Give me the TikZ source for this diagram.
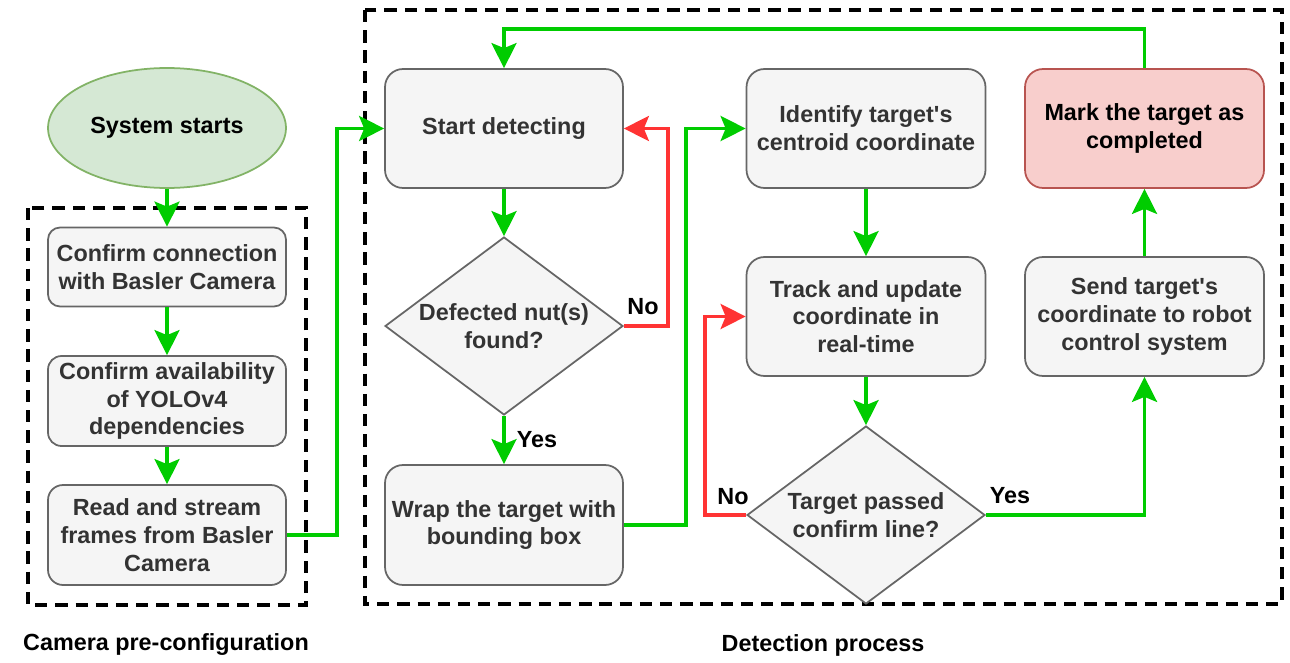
\documentclass[tikz,border=0pt]{standalone}
\usepackage{fontspec}
\setmainfont{Liberation Sans}
\usetikzlibrary{arrows.meta,shapes.geometric}
\definecolor{boxfill}{HTML}{F5F5F5}
\definecolor{boxline}{HTML}{666666}
\definecolor{boxtext}{HTML}{333333}
\definecolor{gfill}{HTML}{D5E8D4}
\definecolor{gline}{HTML}{82B366}
\definecolor{rfill}{HTML}{F8CECC}
\definecolor{rline}{HTML}{B85450}
\definecolor{garrow}{HTML}{00CC00}
\definecolor{rarrow}{HTML}{FF3333}
\newcommand{\apos}{\textquotesingle}
\tikzset{
  txt/.style={font=\fontsize{13.3pt}{15.8pt}\selectfont\bfseries, align=center},
  procbox/.style={txt, draw=boxline, fill=boxfill, text=boxtext, line width=1pt,
    rectangle, rounded corners=0.3cm, inner sep=0pt, minimum width=4.76cm},
  decbox/.style={draw=boxline, fill=boxfill, line width=1pt, diamond, inner sep=0pt,
    minimum width=4.76cm, minimum height=3.56cm},
  dectext/.style={txt, text=boxtext},
  grp/.style={draw=black, line width=2.3pt, dash pattern=on 7pt off 4.5pt},
  tip/.style={-{Stealth[length=0.5cm,width=0.5cm,inset=0.1cm]}},
  garr/.style={draw=garrow, line width=2.2pt, tip},
  rarr/.style={draw=rarrow, line width=2.2pt, tip},
  lbl/.style={txt, text=black},
}
\begin{document}
\begin{tikzpicture}[x=0.02cm, y=-0.02cm]
\useasboundingbox (0,0) rectangle (1290,662);
% group frames
\draw[grp] (28,208) rectangle (306,605);
\draw[grp] (365,10) rectangle (1282,604);
% nodes
\node[txt, ellipse, draw=gline, fill=gfill, text=black, line width=1pt, inner sep=0pt,
  minimum width=4.76cm, minimum height=2.4cm] (start) at (167,128) {System starts};
\node[procbox, minimum height=1.58cm, rounded corners=0.24cm] (c1) at (167,267) {Confirm connection\\with Basler Camera};
\node[procbox, minimum height=1.8cm, rounded corners=0.27cm] (c2) at (167,401) {Confirm availability\\of YOLOv4\\dependencies};
\node[procbox, minimum height=2.0cm] (c3) at (167,535) {Read and stream\\frames from Basler\\Camera};
\node[procbox, minimum height=2.38cm, rounded corners=0.36cm] (sd) at (504,128.5) {Start detecting};
\node[decbox] (d1) at (504,326) {};
\node[dectext] (d1t) at (d1.center) {Defected nut(s)\\found?};
\node[procbox, minimum height=2.4cm, rounded corners=0.36cm] (wr) at (504,525) {Wrap the target with\\bounding box};
\node[procbox, minimum width=4.78cm, minimum height=2.38cm, rounded corners=0.36cm] (id) at (866,128.5) {Identify target\apos s\\centroid coordinate};
\node[procbox, minimum width=4.78cm, minimum height=2.38cm, rounded corners=0.36cm] (tr) at (866,316.5) {Track and update\\coordinate in\\real-time};
\node[decbox] (d2) at (866,515) {};
\node[dectext] (d2t) at (d2.center) {Target passed\\confirm line?};
\node[procbox, draw=rline, fill=rfill, text=black, minimum width=4.78cm, minimum height=2.38cm, rounded corners=0.36cm] (mk) at (1144.5,128.5) {Mark the target as\\completed};
\node[procbox, minimum width=4.78cm, minimum height=2.38cm, rounded corners=0.36cm] (se) at (1144.5,316.5) {Send target\apos s\\coordinate to robot\\control system};
% group labels
\node[lbl] (gl1) at (166,645) {Camera pre-configuration};
\node[lbl] (gl2) at (823,645) {Detection process};
% connectors
\draw[garr] (start.south) -- (c1.north);
\draw[garr] (c1.south) -- (c2.north);
\draw[garr] (c2.south) -- (c3.north);
\draw[garr] (c3.east) -- ++(50,0) |- (sd.west);
\draw[garr] (sd.south) -- (d1.north);
\draw[garr] (d1.south) -- (wr.north) node[lbl, midway, anchor=west, xshift=0.1cm] (yes1) {Yes};
\draw[rarr] (d1.east) -- ++(44,0) |- (sd.east);
\node[lbl] (no1) at (643,307) {No};
\draw[garr] (wr.east) -- ++(62,0) |- (id.west);
\draw[garr] (id.south) -- (tr.north);
\draw[garr] (tr.south) -- (d2.north);
\draw[rarr] (d2.west) -- ++(-41,0) |- (tr.west);
\node[lbl] (no2) at (733,497) {No};
\draw[garr] (d2.east) -| (se.south);
\node[lbl] (yes2) at (1010,496) {Yes};
\draw[garr] (se.north) -- (mk.south);
\draw[garr] (mk.north) -- ++(0,-39) -| (sd.north);
\end{tikzpicture}
\end{document}
